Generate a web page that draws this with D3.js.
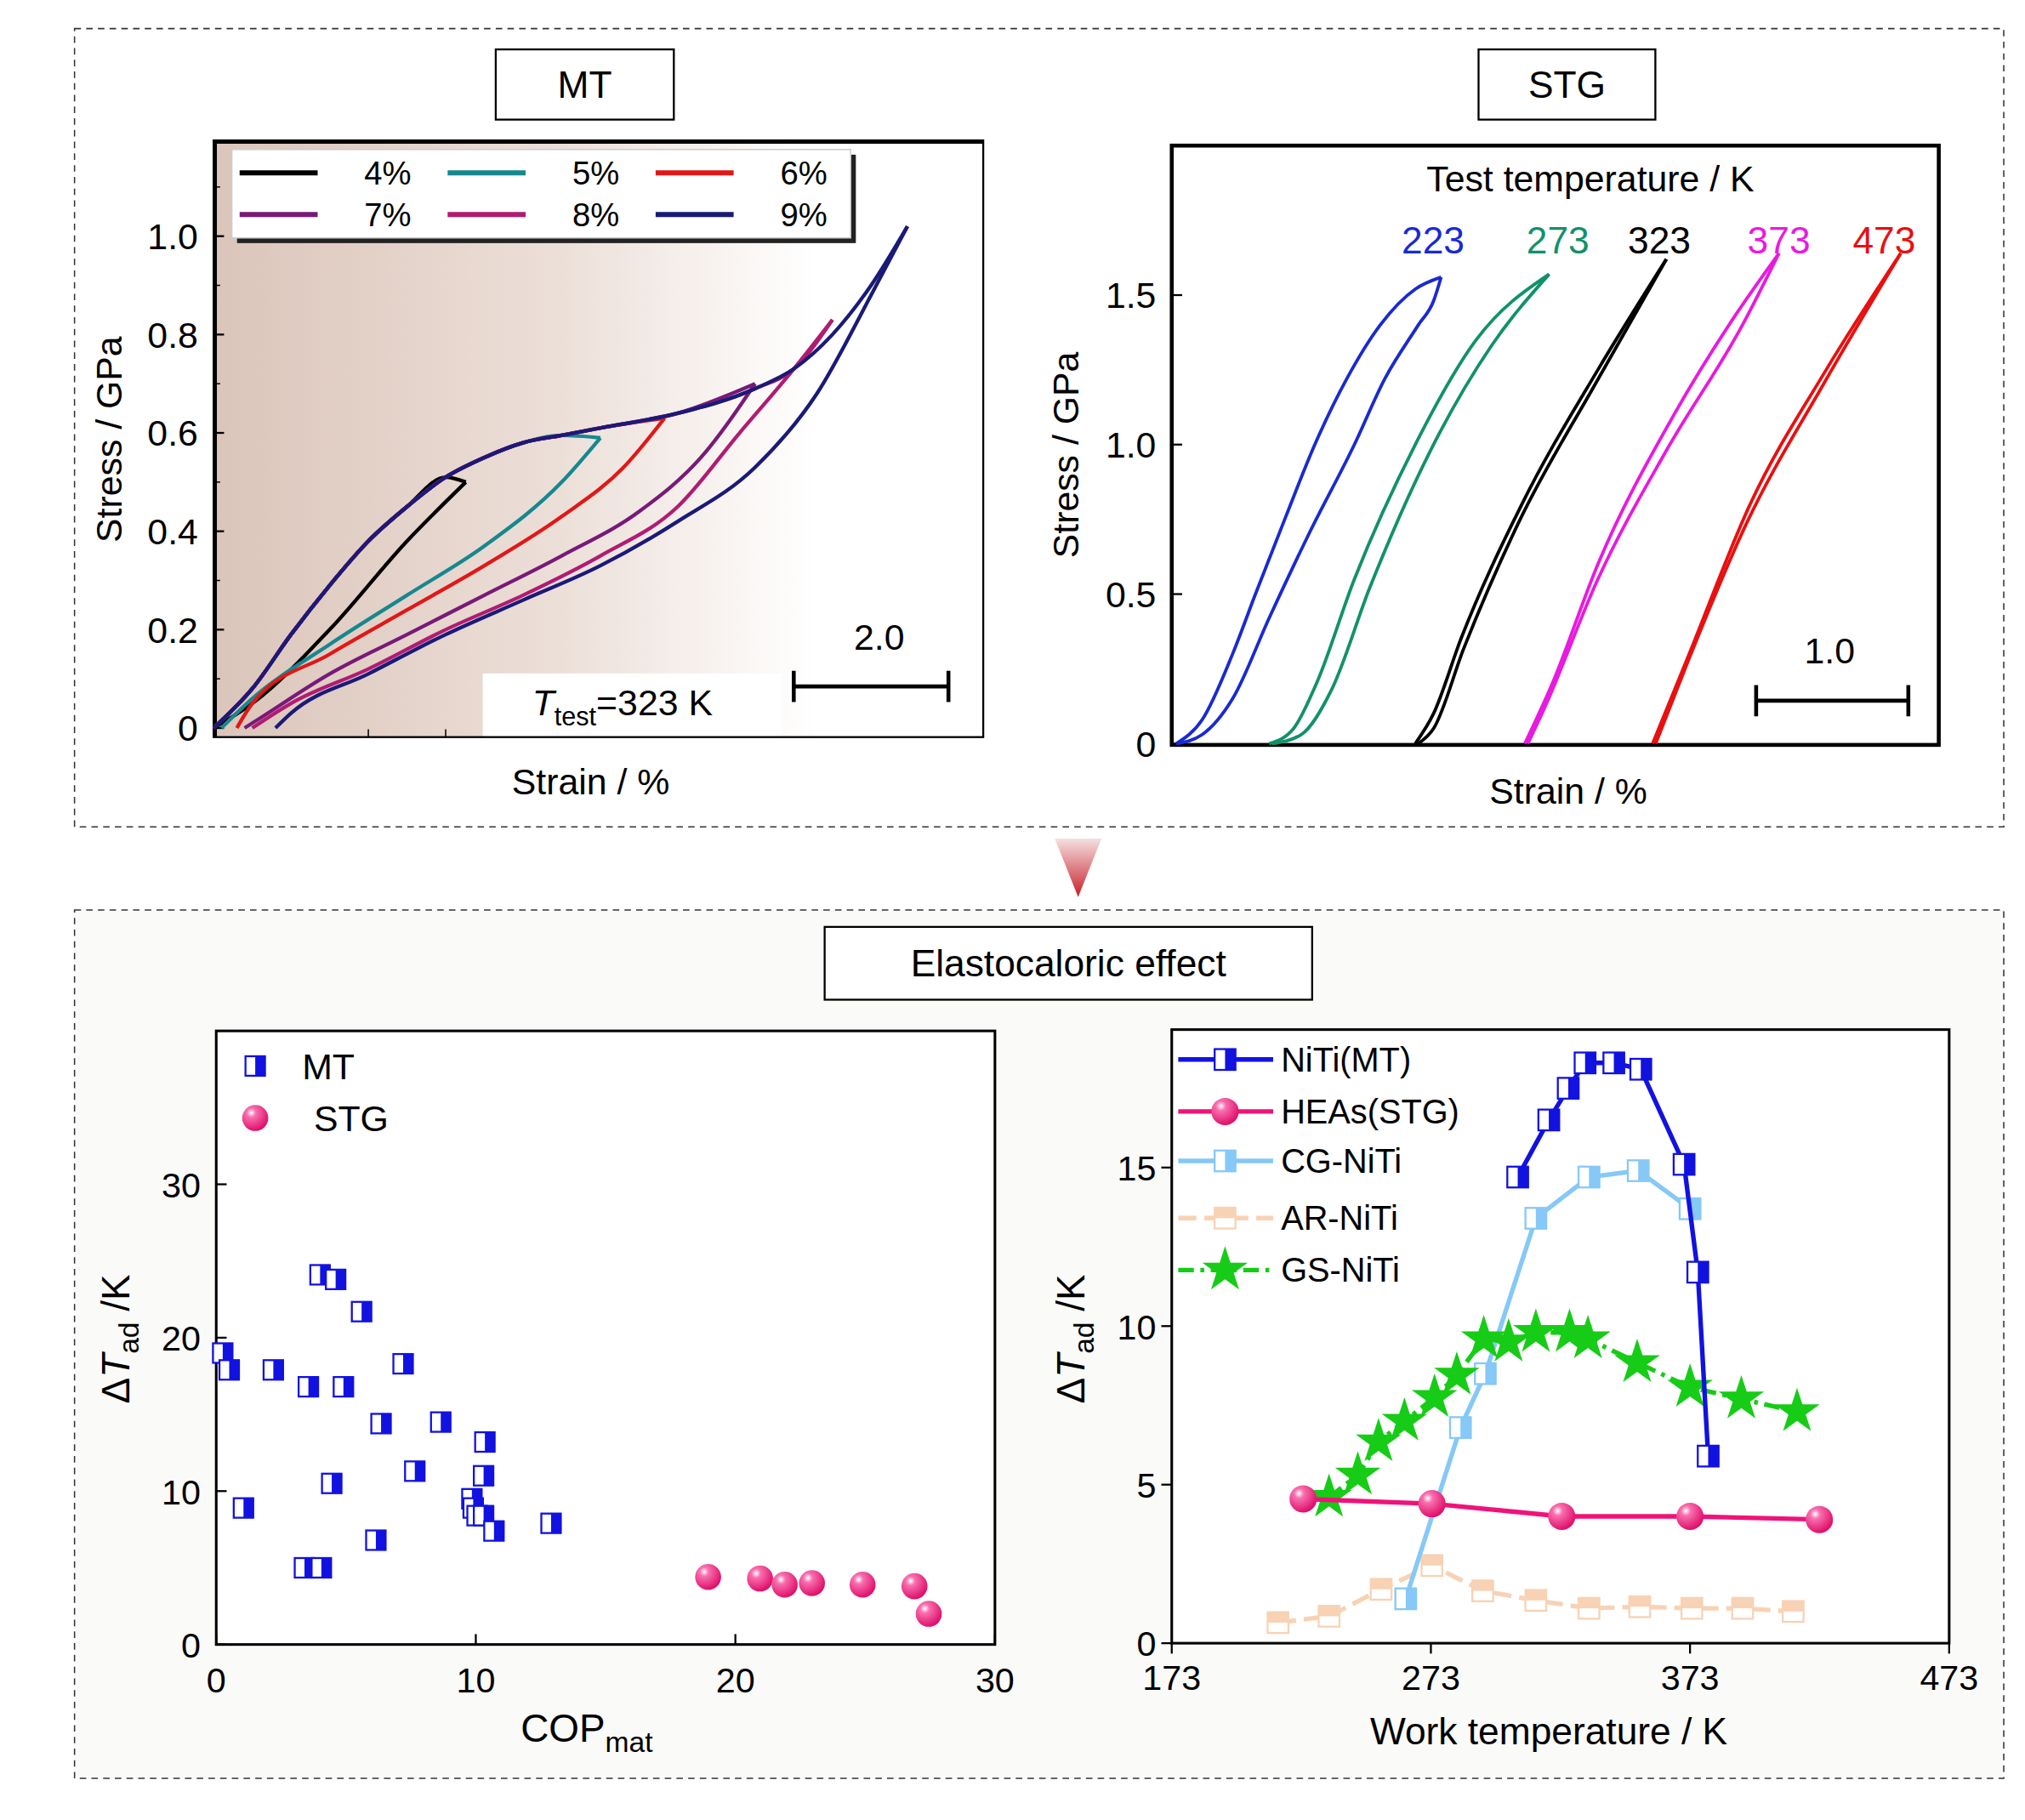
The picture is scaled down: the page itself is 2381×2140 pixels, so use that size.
<!DOCTYPE html>
<html><head><meta charset="utf-8">
<script src="https://cdn.jsdelivr.net/npm/d3@7"></script>
<style>body{margin:0;background:#fff}text{font-family:"Liberation Sans",Arial,sans-serif}</style>
</head><body><div id="chart"></div>
<script>
// ---- MT stress-strain (strain %, stress GPa)
const mtLoad = [[0,0],[0.5,0.08],[1,0.19],[1.5,0.29],[2,0.38],[2.5,0.45],[3,0.51],[3.5,0.55],[4,0.58],[4.5,0.595],[5,0.61],[6,0.64],[7,0.69],[7.5,0.73],[8,0.8],[8.5,0.9],[8.97,1.02]];
const mtNames = ["4%","5%","6%","7%","8%","9%"];
const mtColors = ["#000000","#17878f","#e01818","#781a78","#b01c72","#1a1a78"];
const mtUnload = [
  [[3.26,0.5],[2.5,0.38],[1.5,0.2],[0.5,0.05],[0,0]],
  [[5.0,0.59],[4.5,0.5],[3.5,0.37],[2.5,0.27],[1.5,0.17],[0.5,0.06],[0.1,0]],
  [[5.83,0.63],[5.3,0.53],[4.5,0.43],[3.5,0.33],[2.5,0.24],[1.5,0.15],[0.5,0.05],[0.3,0]],
  [[7.0,0.7],[6.3,0.55],[5.5,0.44],[4.5,0.35],[3.5,0.27],[2.5,0.19],[1.5,0.11],[0.6,0.02],[0.4,0]],
  [[8.0,0.83],[7.5,0.73],[6.8,0.6],[6,0.45],[5,0.35],[4,0.27],[3,0.2],[2,0.12],[1,0.05],[0.5,0]],
  [[8.97,1.02],[8.5,0.88],[7.8,0.68],[7,0.53],[6,0.42],[5,0.33],[4,0.26],[3,0.19],[2,0.11],[1,0.03],[0.8,0]]
];
const mtYTicks = [0,0.2,0.4,0.6,0.8,1.0];

// ---- STG stress-strain loops (loading, unloading)
const stgTemps = ["223","273","323","373","473"];
const stgColors = ["#1a2ad0","#12916a","#000000","#e81ae0","#e81010"];
const stgLoad = [
  [[0.03,0],[0.2,0.08],[0.4,0.3],[0.55,0.5],[0.75,0.76],[0.94,1.0],[1.15,1.22],[1.37,1.4],[1.6,1.52],[1.77,1.56]],
  [[0.64,0],[0.8,0.05],[0.95,0.2],[1.2,0.55],[1.6,1.0],[2.0,1.35],[2.48,1.57]],
  [[1.6,0],[1.72,0.1],[1.9,0.35],[2.3,0.8],[2.8,1.25],[3.25,1.62]],
  [[2.32,0],[2.5,0.2],[2.8,0.6],[3.3,1.1],[3.7,1.43],[3.99,1.64]],
  [[3.16,0],[3.4,0.3],[3.8,0.8],[4.3,1.25],[4.79,1.64]]
];
const stgUnload = [
  [[0.03,0],[0.2,0.03],[0.4,0.15],[0.64,0.42],[0.9,0.7],[1.2,1.0],[1.4,1.22],[1.62,1.4],[1.72,1.48],[1.77,1.56]],
  [[0.66,0],[0.85,0.03],[1.05,0.18],[1.3,0.52],[1.7,0.98],[2.1,1.33],[2.48,1.57]],
  [[1.62,0],[1.72,0.05],[1.92,0.32],[2.28,0.74],[2.78,1.2],[3.25,1.62]],
  [[2.34,0],[2.45,0.12],[2.8,0.55],[3.25,0.98],[3.75,1.4],[3.99,1.64]],
  [[3.18,0],[3.38,0.26],[3.78,0.74],[4.28,1.2],[4.79,1.64]]
];
const stgYTicks = [0,0.5,1.0,1.5];

// ---- COP vs dT
const copMT = [[0.25,19],[0.5,17.9],[1.05,8.9],[2.2,17.9],[3.55,16.8],[3.4,5],[4.05,5],[4.0,24.1],[4.6,23.8],[4.45,10.5],[4.9,16.8],[5.6,21.7],[6.15,6.8],[6.35,14.4],[7.2,18.3],[7.65,11.3],[8.65,14.5],[9.85,9.5],[9.9,8.9],[10.05,8.4],[10.3,11],[10.35,13.2],[10.3,8.4],[10.7,7.4],[12.9,7.9]];
const copSTG = [[18.95,4.4],[20.95,4.3],[21.9,3.9],[22.95,4.0],[24.9,3.9],[26.9,3.8],[27.45,2.0]];
const copXTicks = [0,10,20,30];
const copYTicks = [0,10,20,30];

// ---- work temperature vs dT
const wtNames = ["NiTi(MT)","HEAs(STG)","CG-NiTi","AR-NiTi","GS-NiTi"];
const wtColors = ["#1212e0","#f0127a","#86c8f6","#f8d2b4","#16cc16"];
const wtNiTi = [[306.5,14.7],[318.5,16.5],[326,17.5],[332.5,18.3],[343.6,18.3],[354,18.1],[370.7,15.1],[376,11.7],[380,5.9]];
const wtHEA = [[223.7,4.55],[273.4,4.4],[323.5,4.0],[373,4.0],[422.9,3.9]];
const wtCG = [[263.3,1.4],[284.4,6.8],[294,8.5],[313.5,13.4],[334,14.7],[353,14.9],[373,13.7]];
const wtAR = [[214,0.65],[233.7,0.85],[253.8,1.7],[273.4,2.45],[293,1.65],[313.5,1.35],[334,1.1],[353.6,1.15],[373.7,1.1],[393.3,1.1],[412.8,1.0]];
const wtGS = [[233.7,4.6],[244.8,5.3],[252.8,6.35],[262.8,7.0],[274.4,7.75],[283,8.45],[293.4,9.6],[303,9.5],[313.5,9.8],[326.5,9.8],[333.6,9.6],[352.6,8.85],[373,8.07],[392.8,7.7],[414.3,7.3]];
const wtXTicks = [173,273,373,473];
const wtYTicks = [0,5,10,15];

const svg = d3.select("#chart").append("svg")
  .attr("width",2381).attr("height",2140).attr("viewBox","0 0 1555 1400");
const defs = svg.append("defs");

const bgGrad = defs.append("linearGradient").attr("id","mtbg");
bgGrad.append("stop").attr("offset","0%").attr("stop-color","#dbc5ba");
bgGrad.append("stop").attr("offset","45%").attr("stop-color","#ecdfd8");
bgGrad.append("stop").attr("offset","78%").attr("stop-color","#ffffff");
const arrGrad = defs.append("linearGradient").attr("id","arr").attr("x1",0).attr("y1",0).attr("x2",0).attr("y2",1);
arrGrad.append("stop").attr("offset","0%").attr("stop-color","#f4e0e0");
arrGrad.append("stop").attr("offset","100%").attr("stop-color","#c8202a");
const ball = defs.append("radialGradient").attr("id","ball").attr("cx","35%").attr("cy","30%").attr("r","70%");
ball.append("stop").attr("offset","0%").attr("stop-color","#ffffff");
ball.append("stop").attr("offset","25%").attr("stop-color","#f870b0");
ball.append("stop").attr("offset","100%").attr("stop-color","#e0106a");

// outer dashed frames
svg.append("rect").attr("x",56).attr("y",22).attr("width",1484).attr("height",614)
  .attr("fill","#fff").attr("stroke","#333").attr("stroke-dasharray","5,4");
svg.append("rect").attr("x",56).attr("y",700).attr("width",1484).attr("height",668)
  .attr("fill","#fafaf8").attr("stroke","#333").attr("stroke-dasharray","5,4");
svg.append("path").attr("d","M810,645 L846,645 L828,690 Z").attr("fill","url(#arr)");

function titleBox(x,y,w,h,t){
  svg.append("rect").attr("x",x).attr("y",y).attr("width",w).attr("height",h).attr("fill","#fff").attr("stroke","#000").attr("stroke-width",1.5);
  svg.append("text").attr("x",x+w/2).attr("y",y+h/2+10).attr("text-anchor","middle").attr("font-size",29).text(t);
}
titleBox(380,38,137,54,"MT");
titleBox(1136,38,136,54,"STG");
titleBox(633,713,375,56,"Elastocaloric effect");

function yAxis(g, y, ticks, fmt, left, inward, fs){
  ticks.forEach(t=>{
    const py = y(t);
    g.append("line").attr("x1",left).attr("x2",left+(inward?8:-8)).attr("y1",py).attr("y2",py).attr("stroke","#000").attr("stroke-width",1.5);
    g.append("text").attr("x",left-12).attr("y",py+10).attr("text-anchor","end").attr("font-size",fs).text(fmt(t));
  });
}
const byX = a => a.slice().sort((p,q)=>p[0]-q[0]);

// ===== MT panel
{
  const x = d3.scaleLinear().domain([0,9.95]).range([163,755]);
  const y = d3.scaleLinear().domain([0,1.2]).range([560,106]);
  const g = svg.append("g");
  g.append("rect").attr("x",163).attr("y",108).attr("width",592).attr("height",459).attr("fill","url(#mtbg)");
  g.append("rect").attr("x",370).attr("y",518).attr("width",230).attr("height",49).attr("fill","#fff");
  g.append("rect").attr("x",163).attr("y",108).attr("width",592).attr("height",459).attr("fill","none").attr("stroke","#000").attr("stroke-width",1.5);
  g.append("line").attr("x1",163).attr("x2",755).attr("y1",109).attr("y2",109).attr("stroke","#000").attr("stroke-width",3);
  g.append("line").attr("x1",164).attr("x2",164).attr("y1",108).attr("y2",567).attr("stroke","#000").attr("stroke-width",3);
  yAxis(g,y,mtYTicks,d=>d===0?"0":d.toFixed(1),163,true,28);
  [0.1,0.3,0.5,0.7,0.9,1.1].forEach(t=>g.append("line").attr("x1",163).attr("x2",168).attr("y1",y(t)).attr("y2",y(t)).attr("stroke","#000"));
  [2,3].forEach(t=>g.append("line").attr("x1",x(t)).attr("x2",x(t)).attr("y1",567).attr("y2",561).attr("stroke","#000"));
  const line = d3.line().x(d=>x(d[0])).y(d=>y(d[1])).curve(d3.curveMonotoneX);
  mtNames.forEach((n,i)=>{
    const peak = mtUnload[i][0];
    const load = mtLoad.filter(p=>p[0]<peak[0]-0.2).concat([peak]);
    g.append("path").attr("d",line(load)).attr("fill","none").attr("stroke",mtColors[i]).attr("stroke-width",2.8);
    g.append("path").attr("d",line(byX(mtUnload[i]))).attr("fill","none").attr("stroke",mtColors[i]).attr("stroke-width",2.8);
  });
  // legend
  g.append("rect").attr("x",181).attr("y",119).attr("width",476).attr("height",68).attr("fill","#222");
  g.append("rect").attr("x",177).attr("y",115).attr("width",476).attr("height",68).attr("fill","#fff").attr("stroke","#ccc");
  mtNames.forEach((n,i)=>{
    const cx = 183 + (i%3)*160, cy = 133 + Math.floor(i/3)*32;
    g.append("line").attr("x1",cx).attr("x2",cx+60).attr("y1",cy).attr("y2",cy).attr("stroke",mtColors[i]).attr("stroke-width",4);
    g.append("text").attr("x",cx+132).attr("y",cy+9).attr("text-anchor","end").attr("font-size",25).text(n);
  });
  g.append("text").attr("x",408).attr("y",550).attr("font-size",28).html('<tspan font-style="italic">T</tspan><tspan font-size="20" dy="8">test</tspan><tspan dy="-8">=323 K</tspan>');
  g.append("line").attr("x1",x(7.5)).attr("x2",x(9.5)).attr("y1",528).attr("y2",528).attr("stroke","#000").attr("stroke-width",3);
  [7.5,9.5].forEach(t=>g.append("line").attr("x1",x(t)).attr("x2",x(t)).attr("y1",516).attr("y2",540).attr("stroke","#000").attr("stroke-width",3));
  g.append("text").attr("x",675).attr("y",500).attr("text-anchor","middle").attr("font-size",28).text("2.0");
  g.append("text").attr("x",453).attr("y",611).attr("text-anchor","middle").attr("font-size",28).text("Strain / %");
  g.append("text").attr("transform","translate(92,338) rotate(-90)").attr("text-anchor","middle").attr("font-size",28).text("Stress / GPa");
}

// ===== STG panel
{
  const x = d3.scaleLinear().domain([0,5.04]).range([900,1490]);
  const y = d3.scaleLinear().domain([0,2.0]).range([572,112]);
  const g = svg.append("g");
  g.append("rect").attr("x",900).attr("y",112).attr("width",590).attr("height",461).attr("fill","#fff").attr("stroke","#000").attr("stroke-width",3);
  yAxis(g,y,stgYTicks,d=>d===0?"0":d.toFixed(1),900,true,28);
  const line = d3.line().x(d=>x(d[0])).y(d=>y(d[1])).curve(d3.curveMonotoneX);
  stgTemps.forEach((t,i)=>{
    [stgLoad[i],stgUnload[i]].forEach(pts=>
      g.append("path").attr("d",line(pts)).attr("fill","none").attr("stroke",stgColors[i]).attr("stroke-width",2.5));
  });
  g.append("text").attr("x",1222).attr("y",147).attr("text-anchor","middle").attr("font-size",28).text("Test temperature / K");
  const labX = [1101,1197,1275,1367,1448];
  stgTemps.forEach((t,i)=>g.append("text").attr("x",labX[i]).attr("y",195).attr("text-anchor","middle").attr("font-size",29).attr("fill",stgColors[i]).text(t));
  g.append("line").attr("x1",x(3.84)).attr("x2",x(4.84)).attr("y1",539).attr("y2",539).attr("stroke","#000").attr("stroke-width",3);
  [3.84,4.84].forEach(t=>g.append("line").attr("x1",x(t)).attr("x2",x(t)).attr("y1",527).attr("y2",551).attr("stroke","#000").attr("stroke-width",3));
  g.append("text").attr("x",1406).attr("y",510).attr("text-anchor","middle").attr("font-size",28).text("1.0");
  g.append("text").attr("x",1205).attr("y",618).attr("text-anchor","middle").attr("font-size",28).text("Strain / %");
  g.append("text").attr("transform","translate(828,350) rotate(-90)").attr("text-anchor","middle").attr("font-size",28).text("Stress / GPa");
}

function halfSquare(g,cx,cy,s,col,fillCol){
  g.append("rect").attr("x",cx-s/2).attr("y",cy-s/2).attr("width",s).attr("height",s).attr("fill","#fff").attr("stroke",col).attr("stroke-width",1.5);
  g.append("rect").attr("x",cx).attr("y",cy-s/2).attr("width",s/2).attr("height",s).attr("fill",fillCol||col);
}
function bottomHalfSquare(g,cx,cy,s,col){
  g.append("rect").attr("x",cx-s/2).attr("y",cy-s/2).attr("width",s).attr("height",s).attr("fill","#fff").attr("stroke",col).attr("stroke-width",1.5);
  g.append("rect").attr("x",cx-s/2).attr("y",cy-s/2).attr("width",s).attr("height",s/2).attr("fill",col);
}
function sphere(g,cx,cy,r){
  g.append("circle").attr("cx",cx).attr("cy",cy).attr("r",r).attr("fill","url(#ball)");
}
function dTlabel(x0,y0){
  svg.append("text").attr("transform",`translate(${x0},${y0}) rotate(-90)`).attr("text-anchor","middle")
    .attr("font-family","Liberation Serif").attr("font-size",30)
    .html('Δ<tspan font-style="italic">T</tspan><tspan font-size="22" dy="7">ad</tspan><tspan dy="-7"> /K</tspan>');
}

// ===== COP panel
{
  const x = d3.scaleLinear().domain([0,30]).range([165,764]);
  const y = d3.scaleLinear().domain([0,40]).range([1265,793]);
  const g = svg.append("g");
  g.append("rect").attr("x",165).attr("y",793).attr("width",599).attr("height",472).attr("fill","#fff").attr("stroke","#000").attr("stroke-width",2);
  yAxis(g,y,copYTicks,d=>d,165,true,27);
  copXTicks.forEach(t=>{
    g.append("line").attr("x1",x(t)).attr("x2",x(t)).attr("y1",1265).attr("y2",1257).attr("stroke","#000").attr("stroke-width",1.5);
    g.append("text").attr("x",x(t)).attr("y",1302).attr("text-anchor","middle").attr("font-size",27).text(t);
  });
  copMT.forEach(d=>halfSquare(g,x(d[0]),y(d[1]),15,"#1212e0"));
  copSTG.forEach(d=>sphere(g,x(d[0]),y(d[1]),10));
  halfSquare(g,195,820,15,"#1212e0");
  g.append("text").attr("x",231).attr("y",830).attr("font-size",28).text("MT");
  sphere(g,195,860,10);
  g.append("text").attr("x",240).attr("y",870).attr("font-size",28).text("STG");
  g.append("text").attr("x",450).attr("y",1340).attr("text-anchor","middle").attr("font-family","Liberation Serif").attr("font-size",30)
    .html('COP<tspan font-size="22" dy="8">mat</tspan>');
  dTlabel(98,1030);
}

// ===== Work temperature panel
{
  const x = d3.scaleLinear().domain([173,473]).range([900,1498]);
  const y = d3.scaleLinear().domain([0,19.35]).range([1264,792]);
  const g = svg.append("g");
  g.append("rect").attr("x",900).attr("y",792).attr("width",598).attr("height",472).attr("fill","#fff").attr("stroke","#000").attr("stroke-width",2);
  yAxis(g,y,wtYTicks,d=>d,900,false,27);
  wtXTicks.forEach(t=>{
    g.append("line").attr("x1",x(t)).attr("x2",x(t)).attr("y1",1264).attr("y2",1272).attr("stroke","#000").attr("stroke-width",1.5);
    g.append("text").attr("x",x(t)).attr("y",1300).attr("text-anchor","middle").attr("font-size",27).text(t);
  });
  const line = d3.line().x(d=>x(d[0])).y(d=>y(d[1]));
  const series = [wtNiTi,wtHEA,wtCG,wtAR,wtGS];
  const dashes = [null,null,null,"14,6","12,5,3,5"];
  const order = [3,2,4,1,0];
  const star = d3.symbol().type(d3.symbolStar).size(380);
  function marker(i,cx,cy){
    if(i===0) halfSquare(g,cx,cy,16,wtColors[0]);
    else if(i===1) sphere(g,cx,cy,10.5);
    else if(i===2) halfSquare(g,cx,cy,16,"#86c8f6");
    else if(i===3) bottomHalfSquare(g,cx,cy,16,"#f8d2b4");
    else g.append("path").attr("d",star()).attr("transform",`translate(${cx},${cy})`).attr("fill",wtColors[4]);
  }
  order.forEach(i=>{
    g.append("path").attr("d",line(series[i])).attr("fill","none").attr("stroke",wtColors[i]).attr("stroke-width",3.5)
      .attr("stroke-dasharray",dashes[i]);
    series[i].forEach(d=>marker(i,x(d[0]),y(d[1])));
  });
  const ly = [815,855,893,937,977];
  wtNames.forEach((n,i)=>{
    g.append("line").attr("x1",905).attr("x2",978).attr("y1",ly[i]).attr("y2",ly[i]).attr("stroke",wtColors[i]).attr("stroke-width",3.5)
      .attr("stroke-dasharray",dashes[i]);
    marker(i,941,ly[i]);
    g.append("text").attr("x",984).attr("y",ly[i]+9).attr("font-size",26).text(n);
  });
  g.append("text").attr("x",1190).attr("y",1342).attr("text-anchor","middle").attr("font-size",29).text("Work temperature / K");
  dTlabel(833,1030);
}
</script></body></html>
